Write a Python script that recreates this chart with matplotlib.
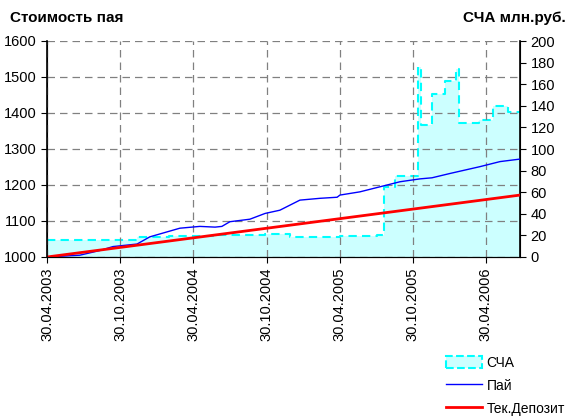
#!/usr/bin/env python3
"""Стоимость пая / СЧА chart"""

import pandas as pd
import matplotlib
matplotlib.use("Agg")
import matplotlib.pyplot as plt
import matplotlib.dates as mdates
from matplotlib.patches import Patch
from matplotlib.lines import Line2D

plt.rcParams['font.family'] = ['Liberation Sans', 'DejaVu Sans']

# NAV (СЧА), mln rub, step series
nav_dates = ["2003-04-30", "2003-12-11", "2004-03-01", "2004-07-01", "2004-10-26",
             "2004-12-27", "2005-05-01", "2005-08-02", "2005-08-19", "2005-09-16",
             "2005-11-12", "2005-11-20", "2005-12-17", "2006-01-19", "2006-02-15",
             "2006-02-23", "2006-04-14", "2006-05-19", "2006-06-25", "2006-07-25"]
nav_values = [15.5, 18.5, 19.5, 20.0, 21.0,
              18.5, 19.0, 20.0, 65.0, 75.0,
              176.0, 122.0, 151.0, 163.0, 174.0,
              124.0, 127.0, 140.0, 134.0, 134.0]

# unit value (Пай)
pai_dates = ["2003-04-30", "2003-07-21", "2003-09-09", "2003-10-12", "2003-12-11",
             "2004-01-12", "2004-02-06", "2004-03-27", "2004-05-16", "2004-06-23",
             "2004-07-10", "2004-07-30", "2004-09-18", "2004-10-26", "2004-12-02",
             "2005-01-21", "2005-03-12", "2005-04-24", "2005-05-01", "2005-06-20",
             "2005-08-09", "2005-09-28", "2005-11-17", "2005-12-17", "2006-01-31",
             "2006-04-16", "2006-06-05", "2006-07-25"]
pai_values = [1000, 1005, 1018, 1029, 1036,
              1056, 1064, 1080, 1085, 1083,
              1085, 1098, 1105, 1121, 1130,
              1158, 1163, 1166, 1172, 1181,
              1195, 1209, 1217, 1220, 1232,
              1251, 1265, 1272]

# current deposit (Тек.Депозит)
dep_dates = ["2003-04-30", "2006-07-25"]
dep_values = [1000, 1172]

tick_dates = ["2003-04-30", "2003-10-30", "2004-04-30", "2004-10-30",
              "2005-04-30", "2005-10-30", "2006-04-30"]

nav_x = pd.to_datetime(nav_dates)
pai_x = pd.to_datetime(pai_dates)
dep_x = pd.to_datetime(dep_dates)

fig = plt.figure(figsize=(5.69, 4.19), dpi=100)
ax = fig.add_axes([47 / 569, 1 - 257 / 419, 473 / 569, 216 / 419])
ax2 = ax.twinx()

# NAV area on right axis
ax2.fill_between(nav_x, nav_values, 0, step='post', color='#ccffff', linewidth=0)
ax2.step(nav_x, nav_values, where='post', color='#00ffff', linewidth=1.5,
         linestyle=(0, (4, 2.5)))
ax2.set_ylim(0, 200)
ax2.set_yticks(range(0, 201, 20))

ax.set_zorder(ax2.get_zorder() + 1)
ax.patch.set_visible(False)

ax.plot(pai_x, pai_values, color='#0000ff', linewidth=1)
ax.plot(dep_x, dep_values, color='#ff0000', linewidth=2)

ax.set_ylim(1000, 1600)
ax.set_yticks(range(1000, 1601, 100))
ax.set_xlim(pd.Timestamp("2003-04-30"), pd.Timestamp("2006-07-25"))
ax.set_xticks(pd.to_datetime(tick_dates))
ax.xaxis.set_major_formatter(mdates.DateFormatter("%d.%m.%Y"))
ax.tick_params(axis='x', rotation=90)

ax.grid(True, color='#808080', linestyle=(0, (6, 4)), linewidth=0.9)
for a in (ax, ax2):
    a.spines['top'].set_visible(False)
    a.tick_params(labelsize=10.5, length=4, direction='out')
ax.spines['left'].set_linewidth(1.2)
ax2.spines['right'].set_linewidth(1.2)

fig.text(10 / 569, 1 - 18 / 419, "Стоимость пая", fontsize=11, fontweight='bold',
         va='center', ha='left')
fig.text(566 / 569, 1 - 18 / 419, "СЧА млн.руб.", fontsize=11, fontweight='bold',
         va='center', ha='right')

handles = [
    Patch(facecolor='#ccffff', edgecolor='#00ffff', linestyle='--', linewidth=1.5),
    Line2D([], [], color='#0000ff', linewidth=1),
    Line2D([], [], color='#ff0000', linewidth=2),
]
fig.legend(handles, ["СЧА", "Пай", "Тек.Депозит"], loc='lower right',
           bbox_to_anchor=(1.01, -0.015), frameon=False, fontsize=10,
           handlelength=2.6, handleheight=1.0, handletextpad=0.3,
           labelspacing=0.65, borderaxespad=0.3)

fig.savefig("out.png", dpi=100)
plt.close(fig)
